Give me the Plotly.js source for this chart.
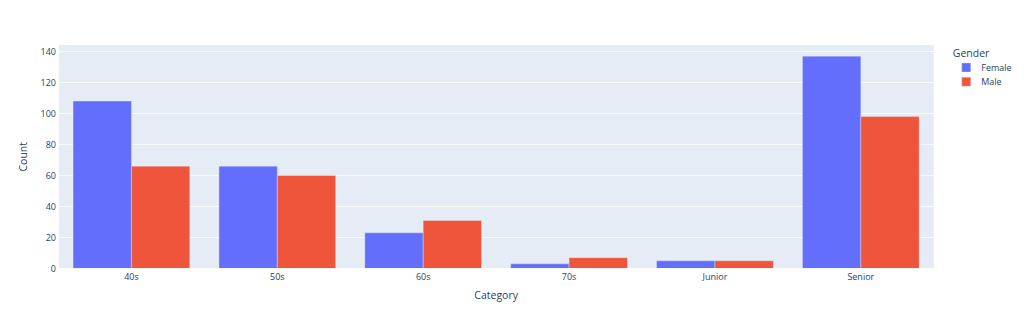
<!DOCTYPE html>
<html>
<head>
<meta charset="utf-8">
<script src="https://cdn.plot.ly/plotly-3.0.1.min.js"></script>
<style>
html,body{margin:0;padding:0;background:#fff;overflow:hidden;width:1024px;height:327px;}
#chart{width:1366px;height:436px;transform:scale(0.75);transform-origin:0 0;}
</style>
</head>
<body>
<div id="chart"></div>
<script>
const categories = ["40s", "50s", "60s", "70s", "Junior", "Senior"];
const femaleCounts = [108, 66, 23, 3, 5, 137];
const maleCounts = [66, 60, 31, 7, 5, 98];

const data = [
  {type: "bar", name: "Female", x: categories, y: femaleCounts,
   marker: {color: "#636efa", line: {color: "#E5ECF6", width: 0.5}}},
  {type: "bar", name: "Male", x: categories, y: maleCounts,
   marker: {color: "#EF553B", line: {color: "#E5ECF6", width: 0.5}}}
];

const layout = {
  width: 1366, height: 436,
  barmode: "group",
  paper_bgcolor: "#ffffff",
  plot_bgcolor: "#E5ECF6",
  font: {family: "\"Open Sans\", verdana, arial, sans-serif", size: 12, color: "#2a3f5f"},
  margin: {t: 60, b: 78, l: 78},
  xaxis: {title: {text: "Category", standoff: 12}, showgrid: false, linecolor: "white", ticks: "", zerolinecolor: "white", automargin: true},
  yaxis: {title: {text: "Count", standoff: 14}, gridcolor: "white", linecolor: "white", ticks: "", zerolinecolor: "white", zerolinewidth: 2, automargin: true},
  legend: {title: {text: "Gender"}, tracegroupgap: 0, y: 1.009},
  hovermode: "closest"
};

Plotly.newPlot("chart", data, layout, {displayModeBar: false});
</script>
</body>
</html>
